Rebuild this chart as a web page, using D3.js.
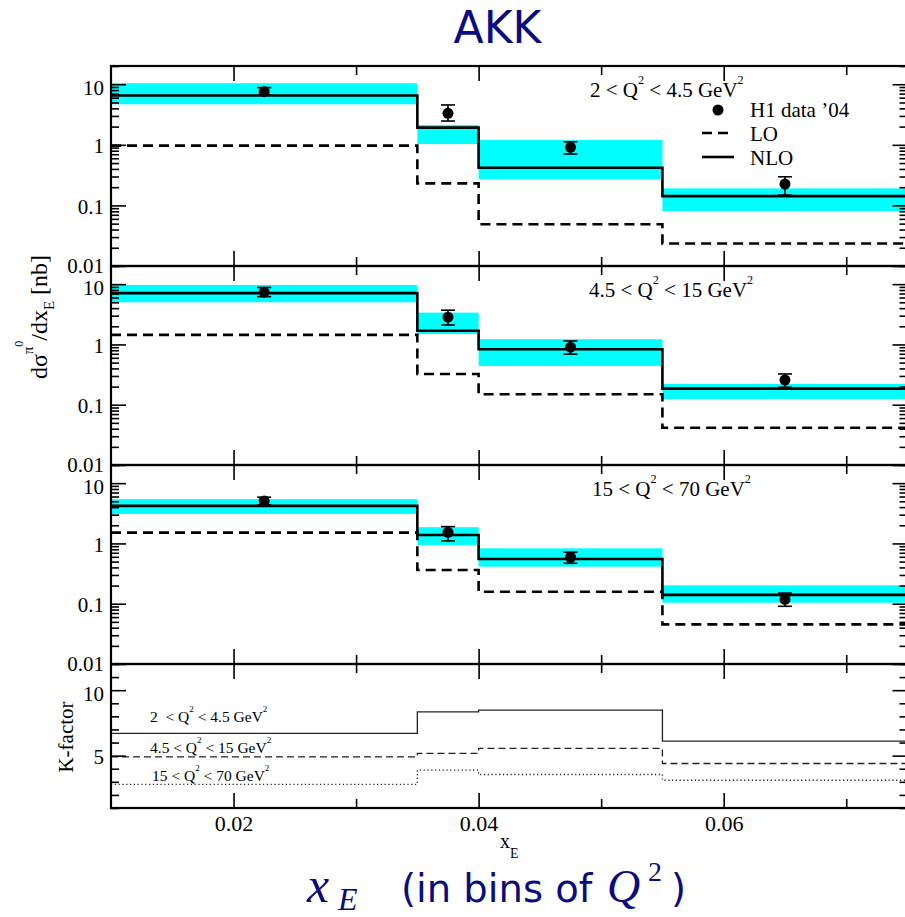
<!DOCTYPE html>
<html>
<head>
<meta charset="utf-8">
<script src="https://cdn.jsdelivr.net/npm/d3@7"></script>
<style>
  body { margin: 0; background: #fff; }
  svg { display: block; font-family: "Liberation Serif", "Times New Roman", serif; }
</style>
</head>
<body>
<svg id="chart" width="905" height="917"></svg>
<script>
// ---- data ----
const binEdges = [0.01, 0.035, 0.04, 0.055, 0.075];
const dataX = [0.0225, 0.0375, 0.0475, 0.065];
const q2Bins = [["2", "4.5"], ["4.5", "15"], ["15", "70"]];

// H1 data '04 (value, lower / upper end of error bar), one row per Q2 bin
const h1Val = [[7.55, 3.31, 0.91, 0.225], [7.36, 2.83, 0.90, 0.257], [5.08, 1.53, 0.59, 0.118]];
const h1Lo  = [[6.65, 2.47, 0.705, 0.148], [6.2, 2.1, 0.69, 0.195], [4.36, 1.1, 0.469, 0.0906]];
const h1Hi  = [[8.8, 4.55, 1.12, 0.297], [8.8, 3.7, 1.14, 0.324], [5.85, 1.9, 0.715, 0.15]];

// theory
const nlo    = [[6.5, 1.92, 0.419, 0.1425], [7.1, 1.69, 0.83, 0.185], [4.2, 1.38, 0.553, 0.14]];
const lo     = [[0.97, 0.231, 0.049, 0.0235], [1.44, 0.324, 0.149, 0.0415], [1.51, 0.363, 0.158, 0.0455]];
const bandLo = [[4.67, 1.03, 0.269, 0.0805], [5.0, 1.49, 0.44, 0.124], [3.09, 0.944, 0.412, 0.104]];
const bandHi = [[10.4, 2.12, 1.2, 0.191], [9.7, 3.37, 1.22, 0.221], [5.42, 1.86, 0.83, 0.202]];

// K-factor = NLO / LO
const kFactor = [[6.70, 8.35, 8.48, 6.11], [4.9, 5.17, 5.55, 4.4], [2.81, 3.89, 3.56, 3.12]];

const majorX = [0.02, 0.04, 0.06];
const minorX = [0.03, 0.05, 0.07];
const xTickLabels = ["0.02", "0.04", "0.06"];
const majorLogY = [0.01, 0.1, 1, 10];
const majorKY = [5, 10];

// ---- layout ----
const svg = d3.select("#chart");
const left = 111, right = 907.5;
const panels = [
  { top: 66, bottom: 266 },
  { top: 266, bottom: 465 },
  { top: 465, bottom: 664 },
];
const kPanel = { top: 664, bottom: 808 };
const navy = "#0b0b80";
const FS = 21;
const SERIF = "Liberation Serif, serif";
const SANS = "DejaVu Sans, sans-serif";

const x = d3.scaleLinear().domain([0.01, 0.075]).range([left, right]);

// text with super/subscripts: parts = [{t, s (shift in em, negative = up), f (size factor)}]
function rich(sel, parts, size) {
  let cur = 0;
  parts.forEach((p) => {
    const s = p.s || 0;
    sel.append("tspan")
      .attr("dy", (s - cur) * size)
      .attr("font-size", size * (p.f || 1))
      .text(p.t);
    cur = s;
  });
  return sel;
}

function q2Parts(a, b) {
  return [
    { t: `${a} < Q` },
    { t: "2", s: -0.62, f: 0.58 },
    { t: ` < ${b} GeV`, s: 0 },
    { t: "2", s: -0.62, f: 0.58 },
  ];
}

function styleAxis(g) {
  g.attr("font-family", SERIF).attr("font-size", FS);
  g.select(".domain").remove();
  g.selectAll(".tick line").attr("stroke", "#000").attr("stroke-width", 1.6);
  g.selectAll(".tick text").attr("fill", "#000");
}

// frame + ticks for one panel
function drawFrame(y, majorY, minorY, top, bottom, showXLabels) {
  const g = svg.append("g").attr("class", "frame");

  // x ticks, bottom (pointing up) and top (pointing down)
  g.append("g").attr("transform", `translate(0,${bottom})`)
    .call(d3.axisBottom(x).tickValues(majorX).tickSizeInner(-15).tickSizeOuter(0)
      .tickPadding(7)
      .tickFormat((d, i) => (showXLabels ? xTickLabels[i] : "")))
    .call(styleAxis)
    .call((a) => a.attr("font-size", 22));
  g.append("g").attr("transform", `translate(0,${bottom})`)
    .call(d3.axisBottom(x).tickValues(minorX).tickSizeInner(-9).tickSizeOuter(0).tickFormat(""))
    .call(styleAxis);
  g.append("g").attr("transform", `translate(0,${top})`)
    .call(d3.axisTop(x).tickValues(majorX).tickSizeInner(-15).tickSizeOuter(0).tickFormat(""))
    .call(styleAxis);
  g.append("g").attr("transform", `translate(0,${top})`)
    .call(d3.axisTop(x).tickValues(minorX).tickSizeInner(-9).tickSizeOuter(0).tickFormat(""))
    .call(styleAxis);

  // y ticks, left with labels, right without
  g.append("g").attr("transform", `translate(${left},0)`)
    .call(d3.axisLeft(y).tickValues(majorY).tickSizeInner(-15).tickSizeOuter(0)
      .tickPadding(7).tickFormat((d) => String(d)))
    .call(styleAxis)
    .call((a) => a.selectAll(".tick text")
      .attr("dy", (d) => (d === 10 ? "0.48em" : d === 0.01 ? "0.3em" : "0.38em")));
  g.append("g").attr("transform", `translate(${left},0)`)
    .call(d3.axisLeft(y).tickValues(minorY).tickSizeInner(-8).tickSizeOuter(0).tickFormat(""))
    .call(styleAxis);
  g.append("g").attr("transform", `translate(${right},0)`)
    .call(d3.axisRight(y).tickValues(majorY).tickSizeInner(-15).tickSizeOuter(0).tickFormat(""))
    .call(styleAxis);
  g.append("g").attr("transform", `translate(${right},0)`)
    .call(d3.axisRight(y).tickValues(minorY).tickSizeInner(-8).tickSizeOuter(0).tickFormat(""))
    .call(styleAxis);

  g.append("rect")
    .attr("x", left).attr("y", top)
    .attr("width", right - left).attr("height", bottom - top)
    .attr("fill", "none").attr("stroke", "#000").attr("stroke-width", 2.2);
}

// histogram points for a step curve
function stepPoints(vals) {
  const pts = vals.map((v, i) => [binEdges[i], v]);
  pts.push([binEdges[binEdges.length - 1], vals[vals.length - 1]]);
  return pts;
}

// ---- cross-section panels ----
panels.forEach((p, k) => {
  const y = d3.scaleLog().domain([0.01, 20]).range([p.bottom, p.top]);
  const g = svg.append("g");

  // scale-uncertainty band
  g.selectAll("rect.band")
    .data(d3.range(4))
    .join("rect")
    .attr("class", "band")
    .attr("x", (i) => x(binEdges[i]))
    .attr("width", (i) => x(binEdges[i + 1]) - x(binEdges[i]))
    .attr("y", (i) => y(bandHi[k][i]))
    .attr("height", (i) => y(bandLo[k][i]) - y(bandHi[k][i]))
    .attr("fill", "#00ffff");

  const line = d3.line()
    .x((d) => x(d[0]))
    .y((d) => y(d[1]))
    .curve(d3.curveStepAfter);

  g.append("path")
    .attr("d", line(stepPoints(lo[k])))
    .attr("fill", "none").attr("stroke", "#000")
    .attr("stroke-width", 2.6).attr("stroke-dasharray", "10,6");

  g.append("path")
    .attr("d", line(stepPoints(nlo[k])))
    .attr("fill", "none").attr("stroke", "#000")
    .attr("stroke-width", 2.6);

  // H1 data with error bars
  const pts = g.selectAll("g.pt")
    .data(d3.range(4))
    .join("g")
    .attr("class", "pt");
  pts.append("line")
    .attr("x1", (i) => x(dataX[i])).attr("x2", (i) => x(dataX[i]))
    .attr("y1", (i) => y(h1Lo[k][i])).attr("y2", (i) => y(h1Hi[k][i]))
    .attr("stroke", "#000").attr("stroke-width", 1.6);
  [h1Lo, h1Hi].forEach((arr) => {
    pts.append("line")
      .attr("x1", (i) => x(dataX[i]) - 7).attr("x2", (i) => x(dataX[i]) + 7)
      .attr("y1", (i) => y(arr[k][i])).attr("y2", (i) => y(arr[k][i]))
      .attr("stroke", "#000").attr("stroke-width", 1.6);
  });
  pts.append("circle")
    .attr("cx", (i) => x(dataX[i]))
    .attr("cy", (i) => y(h1Val[k][i]))
    .attr("r", 5.5)
    .attr("fill", "#000");

  const minorY = [];
  [0.01, 0.1, 1, 10].forEach((dec) => {
    for (let m = 2; m <= 9; m++) {
      const v = dec * m;
      if (v <= 20) minorY.push(v);
    }
  });
  drawFrame(y, majorLogY, minorY, p.top, p.bottom, false);

  // Q2 label
  const lx = [590, 589, 592][k];
  rich(svg.append("text").attr("x", lx).attr("y", p.top + 31).attr("font-size", FS),
    q2Parts(q2Bins[k][0], q2Bins[k][1]), FS);
});

// ---- legend (top panel) ----
const leg = svg.append("g");
leg.append("circle").attr("cx", 718).attr("cy", 110).attr("r", 5.5).attr("fill", "#000");
leg.append("line").attr("x1", 702).attr("x2", 734).attr("y1", 133).attr("y2", 133)
  .attr("stroke", "#000").attr("stroke-width", 2.6).attr("stroke-dasharray", "10,6");
leg.append("line").attr("x1", 702).attr("x2", 734).attr("y1", 157).attr("y2", 157)
  .attr("stroke", "#000").attr("stroke-width", 2.6);
const legLabels = ["H1 data \u201904", "LO", "NLO"];
leg.selectAll("text.leg")
  .data(legLabels)
  .join("text")
  .attr("class", "leg")
  .attr("x", 750)
  .attr("y", (d, i) => 117 + i * 24)
  .attr("font-size", FS)
  .text((d) => d);

// ---- K-factor panel ----
const yK = d3.scaleLinear().domain([1, 12]).range([kPanel.bottom, kPanel.top]);
const kLine = d3.line()
  .x((d) => x(d[0]))
  .y((d) => yK(d[1]))
  .curve(d3.curveStepAfter);
const kDash = [null, "7,4", "1.2,2.6"];
kFactor.forEach((vals, k) => {
  svg.append("path")
    .attr("d", kLine(stepPoints(vals)))
    .attr("fill", "none").attr("stroke", "#222")
    .attr("stroke-width", 1.3)
    .attr("stroke-dasharray", kDash[k]);
});
const kMinor = d3.range(1, 13).filter((v) => !majorKY.includes(v));
drawFrame(yK, majorKY, kMinor, kPanel.top, kPanel.bottom, true);

const kText = [[150, 722], [150, 752.5], [152, 781]];
q2Bins.forEach((b, k) => {
  const parts = q2Parts(b[0], b[1]);
  if (k === 0) parts[0].t = "2\u2002< Q";
  rich(svg.append("text").attr("x", kText[k][0]).attr("y", kText[k][1]).attr("font-size", 15.5),
    parts, 15.5);
});

// ---- axis titles ----
rich(svg.append("text")
  .attr("transform", "translate(47,317) rotate(-90)")
  .attr("text-anchor", "middle")
  .attr("font-size", 24), [
    { t: "d\u03c3" },
    { t: "\u03c0", s: -0.6, f: 0.6 },
    { t: "0", s: -1.0, f: 0.5 },
    { t: "/dx", s: 0 },
    { t: "E", s: 0.3, f: 0.62 },
    { t: " [nb]", s: 0 },
  ], 24);

svg.append("text")
  .attr("transform", "translate(73,737) rotate(-90)")
  .attr("text-anchor", "middle")
  .attr("font-size", FS)
  .text("K-factor");

rich(svg.append("text").attr("x", 500).attr("y", 848).attr("font-size", 20), [
  { t: "x" },
  { t: "E", s: 0.5, f: 0.7 },
], 20);

// ---- title and bottom caption ----
svg.append("text")
  .attr("x", 497.5).attr("y", 43)
  .attr("text-anchor", "middle")
  .attr("font-family", SANS)
  .attr("font-size", 44)
  .attr("fill", navy)
  .text("AKK");

const cap = svg.append("g").attr("fill", navy);
cap.append("text").attr("x", 307).attr("y", 902)
  .attr("font-style", "italic").attr("font-size", 50).text("x");
cap.append("text").attr("x", 338).attr("y", 910)
  .attr("font-style", "italic").attr("font-size", 32).text("E");
cap.append("text").attr("x", 401).attr("y", 902)
  .attr("font-family", SANS).attr("font-size", 38.5).text("(in bins of");
cap.append("text").attr("x", 607).attr("y", 902)
  .attr("font-style", "italic").attr("font-size", 46).text("Q");
cap.append("text").attr("x", 648).attr("y", 881)
  .attr("font-size", 28).text("2");
cap.append("text").attr("x", 671).attr("y", 902)
  .attr("font-family", SANS).attr("font-size", 38.5).text(")");
</script>
</body>
</html>
